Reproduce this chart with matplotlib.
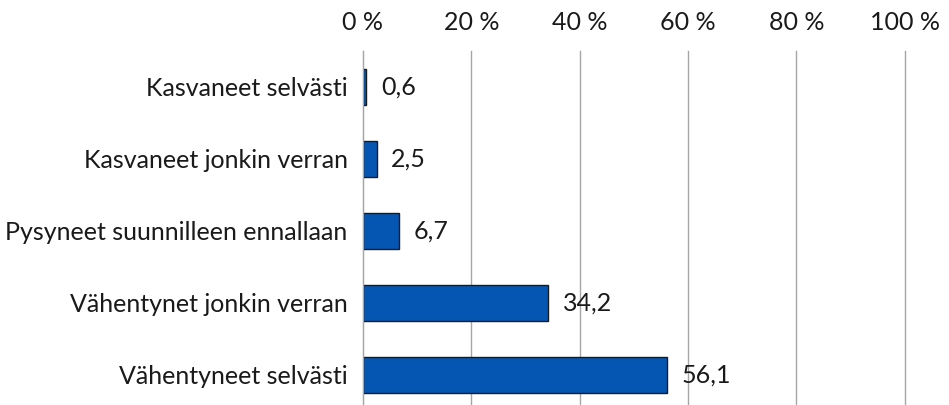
import numpy as np
from matplotlib import pyplot as plt

# Data
categories = ["Kasvaneet selvästi", "Kasvaneet jonkin verran",
              "Pysyneet suunnilleen ennallaan", "Vähentynet jonkin verran",
              "Vähentyneet selvästi"]
values = [0.6, 2.5, 6.7, 34.2, 56.1]
xticks = [0, 20, 40, 60, 80, 100]

plt.rcParams['font.family'] = ['Lato', 'DejaVu Sans']
fs = 18

fig = plt.figure(figsize=(9.49, 4.05), dpi=100)
ax = fig.add_axes([0.3825, -0.0148, 0.571, 0.889])

y = np.arange(len(categories))
ax.barh(y, values, height=0.51, color="#0556b3", edgecolor="#1a1a1a",
        linewidth=1, zorder=3)

for yi, v in zip(y, values):
    ax.annotate(f"{v:.1f}".replace(".", ","), (v, yi), xytext=(10.5, 0),
                textcoords="offset points", va="center", ha="left",
                fontsize=fs, color="#1a1a1a", zorder=4)

ax.set_xlim(0, 100)
ax.set_ylim(4.5, -0.5)
ax.set_yticks(y)
ax.set_yticklabels(categories, fontsize=fs, color="#1a1a1a")
ax.set_xticks(xticks)
ax.set_xticklabels([f"{t} %" for t in xticks], fontsize=fs, color="#1a1a1a")
ax.xaxis.tick_top()
ax.tick_params(axis="x", length=0, pad=12)
ax.tick_params(axis="y", length=0, pad=11)

ax.grid(axis="x", color="#a6a6a6", linewidth=1, zorder=0)
for line in ax.get_xgridlines():
    line.set_clip_on(False)
for s in ["top", "right", "bottom"]:
    ax.spines[s].set_visible(False)
ax.spines["left"].set_color("#a6a6a6")
ax.spines["left"].set_zorder(5)

fig.savefig("out.png", dpi=100)
